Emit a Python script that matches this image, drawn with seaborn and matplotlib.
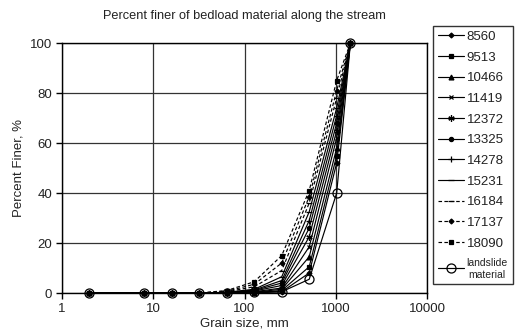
import numpy as np
import pandas as pd
import matplotlib
matplotlib.use("Agg")
import matplotlib.pyplot as plt
import seaborn as sns
from matplotlib.ticker import FixedLocator, FixedFormatter, NullLocator

# ---- data ----
grain_sizes = [2, 8, 16, 32, 64, 128, 256, 512, 1024, 1448]
series_names = ["8560", "9513", "10466", "11419", "12372", "13325", "14278",
                "15231", "16184", "17137", "18090", "landslide\nmaterial"]
s8560 = [0, 0, 0, 0, 0, 0, 0.5, 8, 52, 100]
s9513 = [0, 0, 0, 0, 0, 0, 1, 10.5, 55, 100]
s10466 = [0, 0, 0, 0, 0, 0.3, 1.5, 14.5, 58, 100]
s11419 = [0, 0, 0, 0, 0, 0.5, 2, 18.5, 62, 100]
s12372 = [0, 0, 0, 0, 0, 0.8, 3, 22.5, 65, 100]
s13325 = [0, 0, 0, 0, 0.1, 1, 4, 26, 68, 100]
s14278 = [0, 0, 0, 0, 0.2, 1.2, 5, 29, 71, 100]
s15231 = [0, 0, 0, 0, 0.3, 1.5, 6.5, 32.5, 74, 100]
s16184 = [0, 0, 0, 0, 0.5, 2.5, 9, 36, 78, 100]
s17137 = [0, 0, 0, 0, 0.7, 3.5, 12, 38.5, 81, 100]
s18090 = [0, 0, 0, 0, 1, 4.5, 15, 41, 85, 100]
s_landslide = [0, 0, 0, 0, 0, 0.5, 0.5, 5.5, 40, 100]
all_series = [s8560, s9513, s10466, s11419, s12372, s13325, s14278,
              s15231, s16184, s17137, s18090, s_landslide]
x_ticks = [1, 10, 100, 1000, 10000]
x_tick_labels = ["1", "10", "100", "1000", "10000"]
y_ticks = [0, 20, 40, 60, 80, 100]

# ---- styles ----
markers = ["D", "s", "^", "x", (6, 2, 0), "o", "+", "_", "_", "D", "s", "o"]
msizes = [2.5, 3, 3.5, 3.5, 4.5, 3, 4.5, 4.5, 4.5, 2.5, 3, 6.5]
linestyles = ["-"] * 8 + [(0, (3, 2))] * 3 + ["-"]

sns.set_style("white")
plt.rcParams["font.family"] = ["Liberation Sans", "DejaVu Sans"]

fig = plt.figure(figsize=(5.22, 3.31), dpi=100)
ax = fig.add_axes([62 / 522, 1 - 293 / 331, (427 - 62) / 522, (293 - 43) / 331])

for name, vals, mk, ms, ls in zip(series_names, all_series, markers, msizes, linestyles):
    df = pd.DataFrame({"size": grain_sizes, "pct": vals})
    is_ls = name.startswith("landslide")
    sns.lineplot(data=df, x="size", y="pct", ax=ax, color="black",
                 marker=mk, markersize=ms, linestyle=ls, linewidth=0.85,
                 markerfacecolor="none" if is_ls else "black",
                 markeredgecolor="black", markeredgewidth=0.9,
                 label=name, clip_on=False, zorder=3, legend=False)

ax.set_xscale("log")
ax.set_xlim(1, 10000)
ax.set_ylim(0, 100)
ax.xaxis.set_major_locator(FixedLocator(x_ticks))
ax.xaxis.set_major_formatter(FixedFormatter(x_tick_labels))
ax.xaxis.set_minor_locator(NullLocator())
ax.set_yticks(y_ticks)
ax.grid(True, color="#333333", linewidth=0.9)
ax.set_axisbelow(True)
for sp in ax.spines.values():
    sp.set_color("black")
    sp.set_linewidth(1.0)
ax.tick_params(axis="both", direction="out", length=4, width=1, color="black",
               labelsize=9.5, pad=3, bottom=True, left=True, colors="#222222")
ax.set_xlabel("Grain size, mm", fontsize=9.5, labelpad=2, color="#222222")
ax.set_ylabel("Percent Finer, %", fontsize=9.5, labelpad=4, color="#222222")
ax.set_title("Percent finer of bedload material along the stream",
             fontsize=9.2, pad=17, color="#222222")

handles, labels = ax.get_legend_handles_labels()
leg = fig.legend(handles, labels, loc="upper left",
                 bbox_to_anchor=(433 / 522, 1 - 26 / 331),
                 frameon=True, fancybox=False, edgecolor="black",
                 fontsize=9.5, handlelength=2.0, handletextpad=0.2,
                 labelspacing=0.64, borderpad=0.35, borderaxespad=0)
leg.get_frame().set_linewidth(1.0)
for t in leg.get_texts():
    t.set_color("#222222")
    if t.get_text().startswith("landslide"):
        t.set_fontsize(7.5)
        t.set_horizontalalignment("center")

fig.savefig("out.png", dpi=100)
